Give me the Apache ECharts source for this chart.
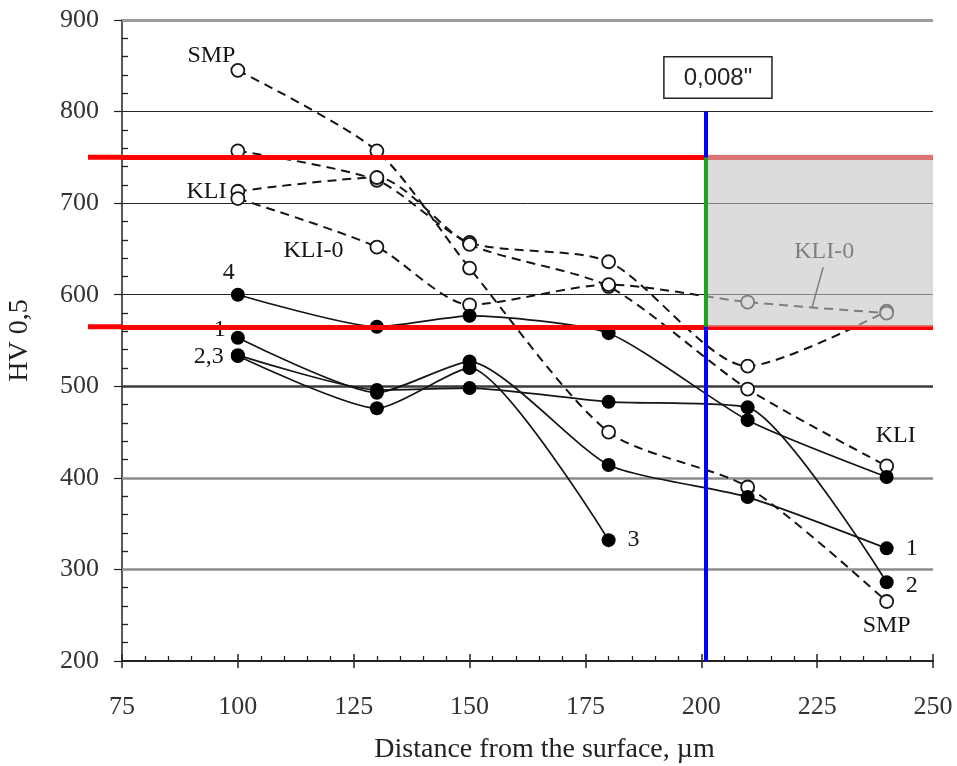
<!DOCTYPE html>
<html>
<head>
<meta charset="utf-8">
<title>HV 0,5 profile</title>
<script src="https://cdn.jsdelivr.net/npm/echarts@6/dist/echarts.min.js"></script>
<style>
  html, body { margin: 0; padding: 0; background: #fff; }
  #chart { width: 957px; height: 766px; }
</style>
</head>
<body>
<div id="chart"></div>
<script>
// depth from the surface, um
var depth = [100, 130, 150, 180, 210, 240];

// open circles, dashed lines
var hvSMP = [845, 757, 629, 450, 390, 265];
var hvOpen = [757, 725, 657, 636, 522, 582];
var hvKLI = [713, 728, 655, 609, 497, 413];
var hvKLI0 = [705, 652, 589, 611, 592, 580];

// filled circles, solid lines
var hv4 = [600, 565, 577, 558, 463, 401];
var hv1 = [553, 493, 527, 414, 379, 323];
var hv2 = [534, 496, 498, 483, 477, 286];
var hv3 = [533, 476, 520, 332];

var xTicks = [75, 100, 125, 150, 175, 200, 225, 250];
var yTicks = [200, 300, 400, 500, 600, 700, 800, 900];

// hardness band and the 0,008" depth
var hvUpper = 750;
var hvLower = 565;
var depthLimit = 201;
var boxText = '0,008"';
var kli0Note = [[226.3, 630], [223.9, 586]];

var serif = 'Liberation Serif';
var ink = '#151515';

var gridColor = {300: '#8c8c8c', 400: '#8c8c8c', 500: '#3c3c3c', 600: '#262626', 700: '#262626', 800: '#262626', 900: '#9c9c9c'};
var gridWidth = {300: 2.5, 400: 2.5, 500: 2.5, 600: 1, 700: 1, 800: 1.2, 900: 3};

function txt(text, pos, dist, off) {
    return {show: true, formatter: text, position: pos, distance: dist, offset: off || [0, 0],
            fontFamily: serif, fontSize: 24, color: ink};
}

function pts(xs, ys, labels) {
    return ys.map(function (y, i) {
        var item = {value: [xs[i], y]};
        if (labels && labels[i]) item.label = labels[i];
        return item;
    });
}

function openLine(name, ys, labels) {
    return {
        name: name, type: 'line', z: 2, smooth: 0.25,
        data: pts(depth, ys, labels),
        symbol: 'circle', symbolSize: 13,
        itemStyle: {color: '#fff', borderColor: ink, borderWidth: 1.8},
        lineStyle: {color: ink, width: 2, type: [9, 6]},
        emphasis: {disabled: true}
    };
}

function filledLine(name, ys, labels) {
    return {
        name: name, type: 'line', z: 2, smooth: 0.2,
        data: pts(depth, ys, labels),
        symbol: 'circle', symbolSize: 14,
        itemStyle: {color: '#000'},
        lineStyle: {color: ink, width: 1.7},
        emphasis: {disabled: true}
    };
}

var kli0 = openLine('KLI-0', hvKLI0, {1: txt('KLI-0', 'left', 26, [0, 4])});
// leader and note inside the grey band
kli0.markLine = {
    silent: true, z: 3, symbol: 'none',
    lineStyle: {color: ink, width: 1.5, type: 'solid'},
    data: [[{coord: kli0Note[0], label: {show: true, position: 'start', distance: 4, formatter: 'KLI-0',
                                         fontFamily: serif, fontSize: 24, color: ink}},
            {coord: kli0Note[1]}]]
};

var series = [
    // grid lines
    {
        type: 'line', data: [],
        markLine: {
            silent: true, z: 1, symbol: 'none', label: {show: false},
            data: yTicks.filter(function (v) { return v > 200; }).map(function (v) {
                return {yAxis: v, lineStyle: {color: gridColor[v], width: gridWidth[v], type: 'solid'}};
            })
        }
    },
    openLine('SMP', hvSMP, {0: txt('SMP', 'left', 5, [10, -15]), 5: txt('SMP', 'bottom', 5)}),
    openLine('open', hvOpen),
    openLine('KLI', hvKLI, {0: txt('KLI', 'left', 4), 5: txt('KLI', 'top', 5, [9, -6])}),
    kli0,
    filledLine('4', hv4, {0: txt('4', 'top', 5, [-9, 2])}),
    filledLine('1', hv1, {0: txt('1', 'left', 5, [0, -8]), 5: txt('1', 'right', 12)}),
    filledLine('2', hv2, {0: txt('2,3', 'left', 7, [0, 2]), 5: txt('2', 'right', 12, [0, 3])}),
    filledLine('3', hv3, {3: txt('3', 'right', 12)}),
    // red limits
    {
        type: 'line', data: [],
        markLine: {
            silent: true, z: 3, symbol: 'none', label: {show: false},
            lineStyle: {color: '#ff0000', width: 5, type: 'solid'},
            data: [{yAxis: hvUpper}, {yAxis: hvLower}]
        }
    },
    // grey band beyond 0,008"
    {
        type: 'line', data: [],
        markArea: {
            silent: true, z: 4,
            itemStyle: {color: 'rgba(197,197,197,0.6)'},
            data: [[{coord: [depthLimit, hvUpper + 3]}, {coord: [250, hvLower]}]]
        }
    },
    // blue depth line and green band edge
    {
        type: 'line', data: [],
        markLine: {
            silent: true, z: 5, symbol: 'none', label: {show: false},
            data: [
                [{coord: [depthLimit, 800], lineStyle: {color: '#0000ff', width: 4, type: 'solid'}},
                 {coord: [depthLimit, 200]}],
                [{coord: [depthLimit, hvUpper], lineStyle: {color: '#1ba51b', width: 4, type: 'solid'}},
                 {coord: [depthLimit, hvLower]}]
            ]
        }
    }
];

var chart = echarts.init(document.getElementById('chart'));

chart.setOption({
    animation: false,
    backgroundColor: '#fff',
    grid: {left: 122, top: 20, right: 24, bottom: 105, outerBoundsMode: 'none'},
    xAxis: [
        {
            type: 'value', min: xTicks[0], max: xTicks[xTicks.length - 1], interval: 25,
            axisLine: {lineStyle: {color: '#222', width: 2}},
            axisTick: {length: 7, lineStyle: {color: '#222', width: 1.5}},
            axisLabel: {fontFamily: serif, fontSize: 26, color: '#333', margin: 33},
            splitLine: {show: false},
            name: 'Distance from the surface, µm', nameLocation: 'middle', nameGap: 75,
            nameTextStyle: {fontFamily: serif, fontSize: 28, color: '#222', padding: [0, 0, 0, 34]}
        },
        {
            type: 'value', position: 'bottom', min: xTicks[0], max: xTicks[xTicks.length - 1], interval: 25,
            axisLine: {show: false}, axisLabel: {show: false}, splitLine: {show: false},
            axisTick: {inside: true, length: 7, lineStyle: {color: '#222', width: 1.5}},
            minorTick: {show: true, splitNumber: 5, length: 5, lineStyle: {color: '#222', width: 1.3}}
        }
    ],
    yAxis: [
        {
            type: 'value', min: yTicks[0], max: yTicks[yTicks.length - 1], interval: 100,
            axisLine: {show: true, lineStyle: {color: '#222', width: 1.5}},
            axisTick: {show: true, length: 8, lineStyle: {color: '#222', width: 1.2}},
            axisLabel: {fontFamily: serif, fontSize: 26, color: '#333', margin: 23},
            splitLine: {show: false},
            name: 'HV 0,5', nameLocation: 'middle', nameGap: 88, nameRotate: 90,
            nameTextStyle: {fontFamily: serif, fontSize: 28, color: '#222'}
        },
        {
            type: 'value', position: 'left', min: yTicks[0], max: yTicks[yTicks.length - 1], interval: 100,
            axisLine: {show: false}, axisLabel: {show: false}, splitLine: {show: false},
            axisTick: {show: false, inside: true},
            minorTick: {show: true, splitNumber: 5, length: 6, lineStyle: {color: '#222', width: 1.3}}
        }
    ],
    series: series
});

// red limits run a little past the y axis; the 0,008" box sits above the blue line
var up = chart.convertToPixel({gridIndex: 0}, [xTicks[0], hvUpper]);
var lo = chart.convertToPixel({gridIndex: 0}, [xTicks[0], hvLower]);
var top800 = chart.convertToPixel({gridIndex: 0}, [depthLimit, 800]);
chart.setOption({
    graphic: [
        {type: 'line', z: 3, shape: {x1: up[0] - 34, y1: up[1], x2: up[0], y2: up[1]}, style: {stroke: '#ff0000', lineWidth: 5}},
        {type: 'line', z: 3, shape: {x1: lo[0] - 34, y1: lo[1], x2: lo[0], y2: lo[1]}, style: {stroke: '#ff0000', lineWidth: 5}},
        {type: 'text', z: 6, x: top800[0] + 12, y: top800[1] - 14,
         style: {text: boxText, align: 'center', verticalAlign: 'bottom',
                 font: '24px "Liberation Sans"', fill: '#222',
                 backgroundColor: '#fff', borderColor: '#222', borderWidth: 1.5,
                 padding: [9, 19, 7, 19]}}
    ]
});
</script>
</body>
</html>
